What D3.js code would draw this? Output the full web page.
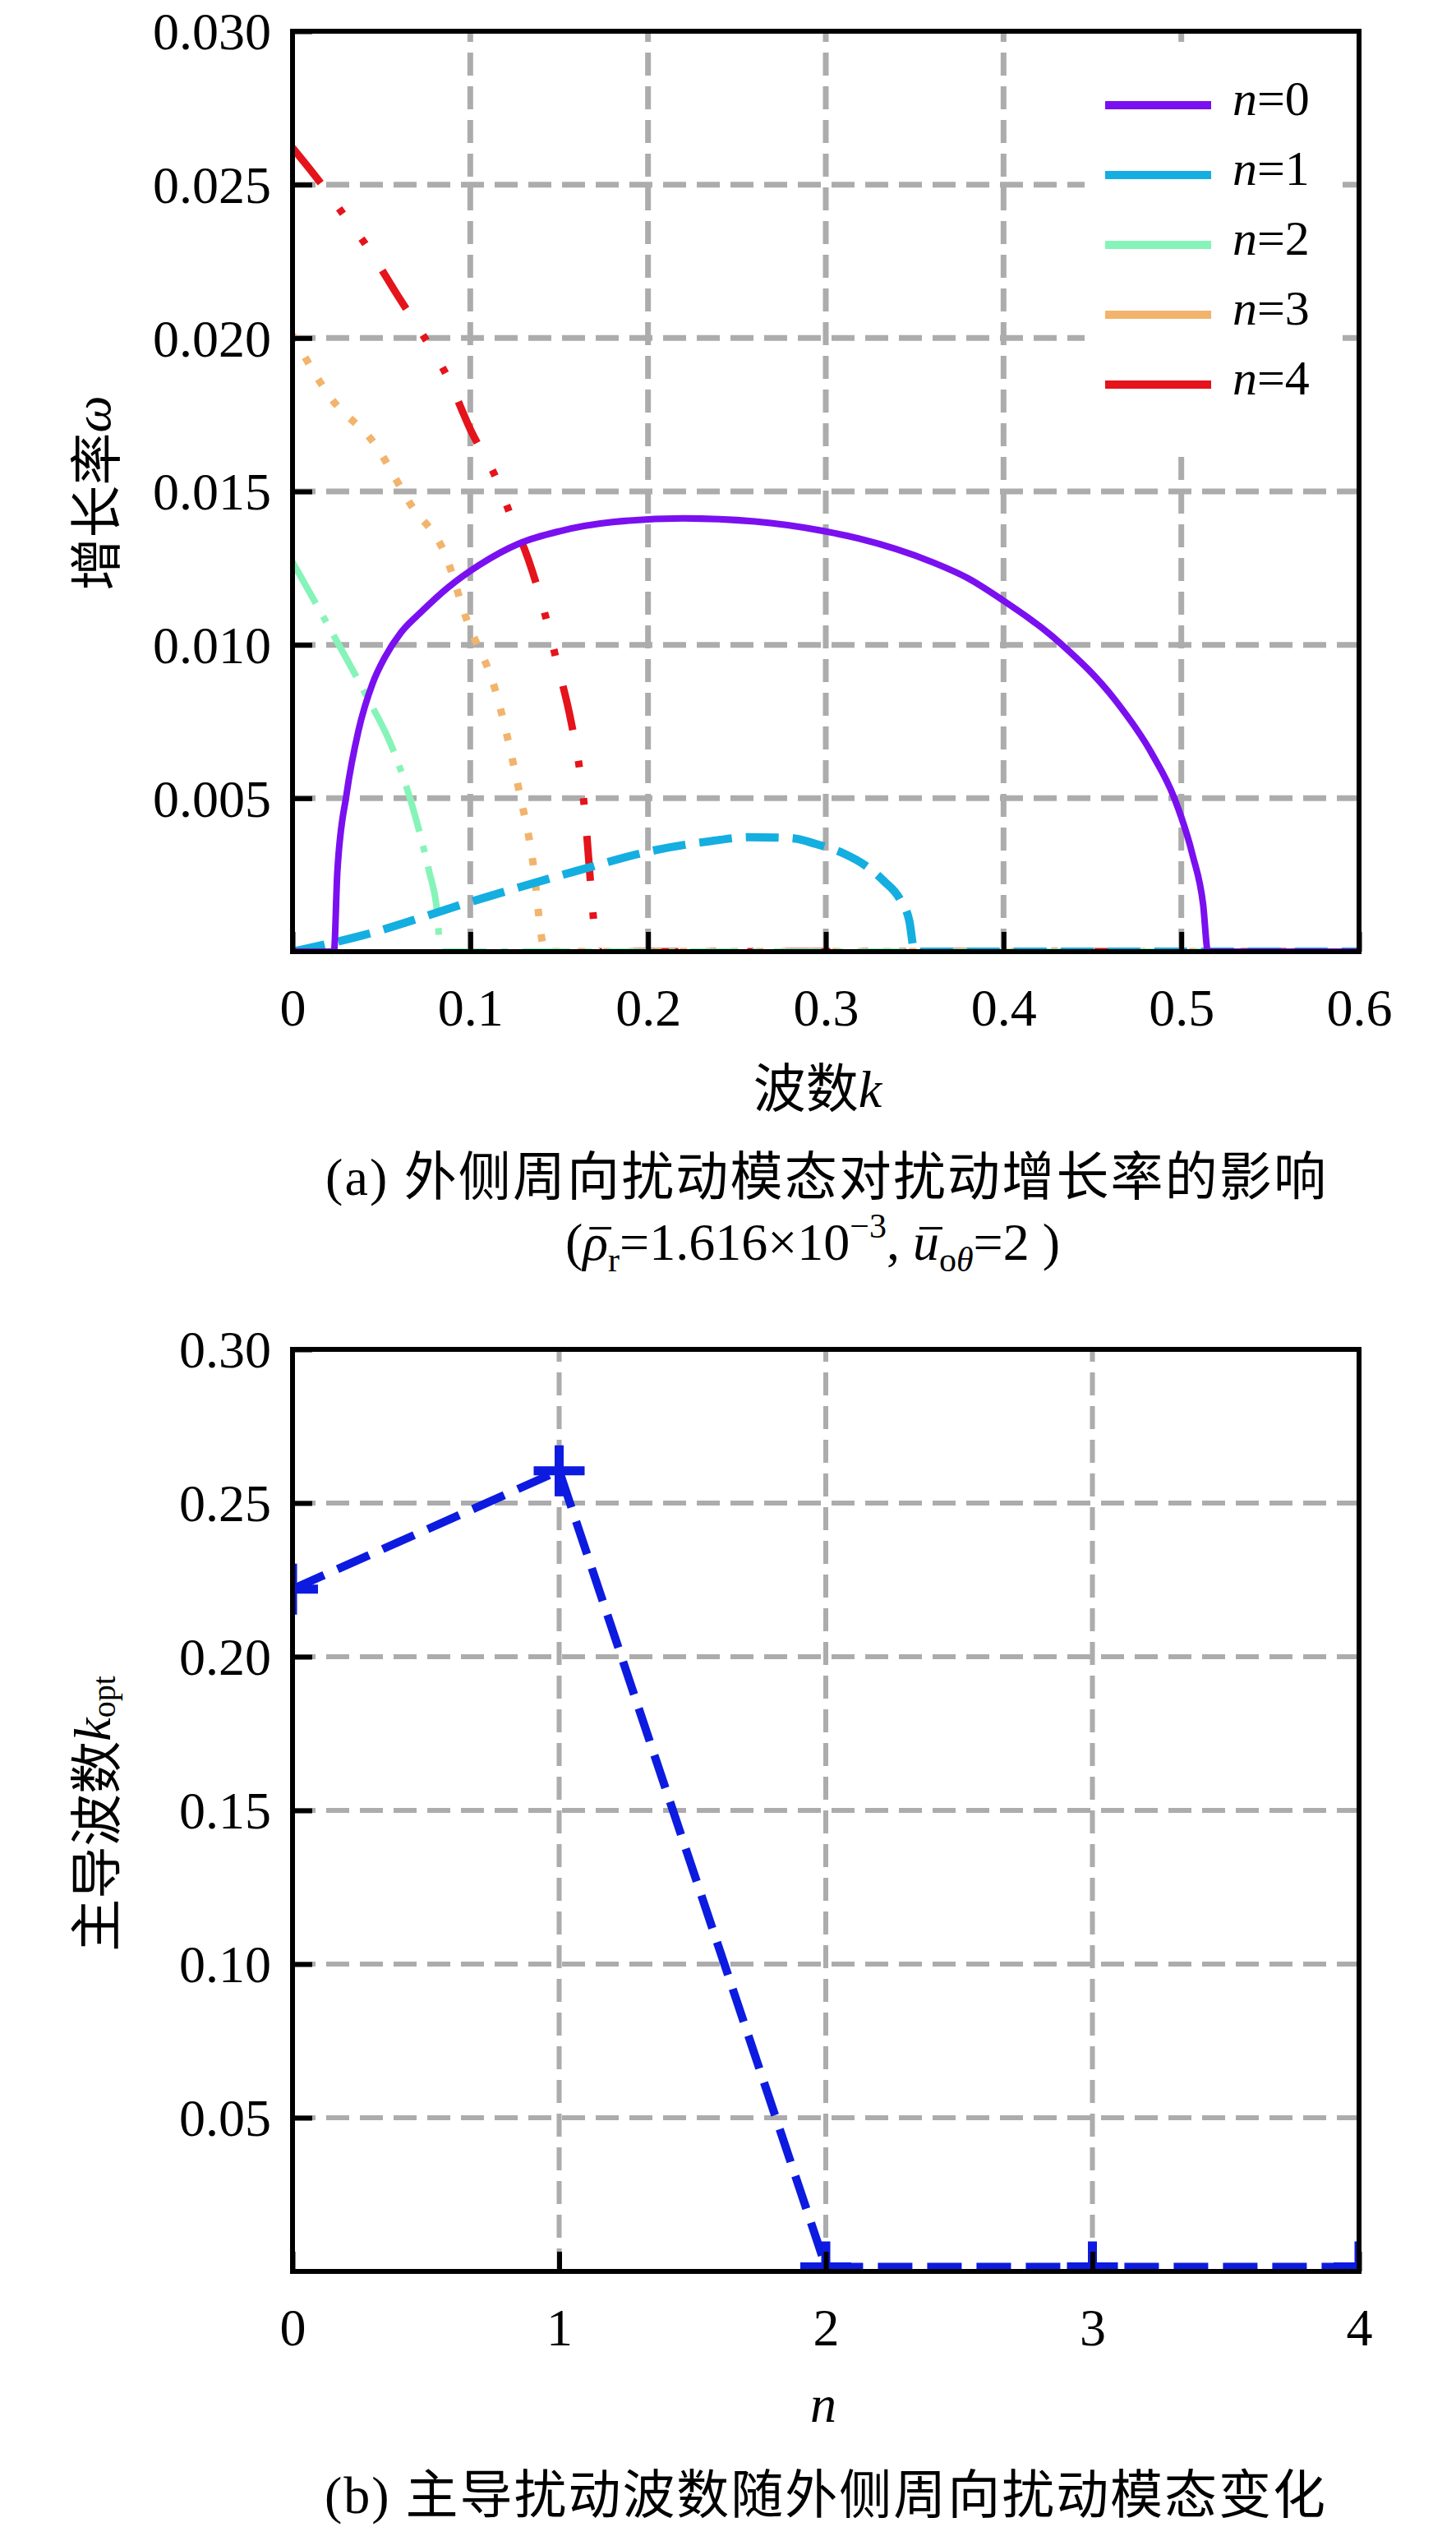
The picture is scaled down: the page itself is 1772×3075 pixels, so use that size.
<!DOCTYPE html>
<html>
<head>
<meta charset="utf-8">
<script src="https://cdn.jsdelivr.net/npm/d3@7"></script>
<style>
  body{margin:0;background:#fff;}
  svg{display:block;}
  text{font-family:"Liberation Serif","Times New Roman","Noto Sans CJK SC",serif;fill:#000;white-space:pre;}
</style>
</head>
<body>
<script>
// ---- data (a): growth rate vs wave number ----
const n0K = [0,0.0233,0.0252,0.0305,0.0371,0.0451,0.052,0.061,0.072,0.0875,0.105,0.1274,0.15,0.18,0.22,0.26,0.2977,0.3183,0.3597,0.3803,0.3989,0.4318,0.4628,0.4835,0.4959,0.5063,0.5123,0.515,0.52,0.6]
const n0W = [0,0,0.00258,0.00517,0.0072,0.00875,0.0096,0.0104,0.01105,0.01187,0.0126,0.0133,0.0137,0.014,0.01412,0.01402,0.01372,0.01347,0.0127,0.01216,0.01148,0.01006,0.0082,0.00645,0.00503,0.00316,0.00153,0,0,0]
const n1K = [0,0.04,0.1,0.158,0.205,0.235,0.257,0.28,0.2945,0.31,0.3227,0.3327,0.3417,0.347,0.35,0.6]
const n1W = [0,0.00054,0.00162,0.0026,0.00332,0.0036,0.00373,0.0037,0.00351,0.0032,0.00279,0.0023,0.00171,0.001,0,0]
const n2K = [0,0.021,0.0424,0.055,0.0663,0.077,0.081,0.0835,0.6]
const n2W = [0.0127,0.01053,0.00825,0.0068,0.00496,0.00258,0.0015,0,0]
const n3K = [0,0.0218,0.0458,0.067,0.0858,0.098,0.1139,0.1274,0.1353,0.1406,0.142,0.6]
const n3W = [0.0201,0.01803,0.01658,0.01453,0.01296,0.01082,0.00856,0.00526,0.00289,0.0003,0,0]
const n4K = [0,0.0165,0.0285,0.0416,0.0591,0.0763,0.087,0.1003,0.115,0.123,0.1327,0.1433,0.1485,0.1566,0.1619,0.1645,0.1672,0.1698,0.1715,0.6]
const n4W = [0.0262,0.025,0.02404,0.02301,0.02139,0.01982,0.01875,0.01699,0.01537,0.01417,0.01278,0.01072,0.00949,0.00753,0.00579,0.00454,0.00258,0.00078,0,0]
const seriesNames = ["n=0","n=1","n=2","n=3","n=4"]
const kTicks = [0,0.1,0.2,0.3,0.4,0.5,0.6]
const wTicks = [0.005,0.010,0.015,0.020,0.025,0.030]

// ---- data (b): dominant wave number vs n ----
const modeN = [0,1,2,3,4]
const kOpt = [0.222,0.2605,0.0015,0.0015,0.0015]
const nTicks = [0,1,2,3,4]
const kOptTicks = [0.05,0.10,0.15,0.20,0.25,0.30]

const W = 1772, H = 3075
const svg = d3.select("body").append("svg").attr("width",W).attr("height",H)
svg.append("rect").attr("width",W).attr("height",H).attr("fill","#fff")

const styles = [
  {color:"#7a10f0", width:8, dash:null},
  {color:"#15aee0", width:10, dash:"40,17"},
  {color:"#86f4b8", width:8, dash:"58,18,8,18"},
  {color:"#f2b46c", width:9, dash:"9,22"},
  {color:"#e5131b", width:9, dash:"55,38,8,38,8,38"}
]

function frame(g, x, y, gridX, gridY, gridW, clipId){
  let [x0,x1] = x.range(), [y0,y1] = y.range()
  g.append("clipPath").attr("id",clipId)
    .append("rect").attr("x",x0).attr("y",y1).attr("width",x1-x0).attr("height",y0-y1)
  let grid = g.append("g").attr("stroke","#acacac").attr("stroke-width",gridW).attr("stroke-dasharray","28,13")
  grid.selectAll(".gx").data(gridX).join("line")
    .attr("x1",d=>x(d)).attr("x2",d=>x(d)).attr("y1",y0).attr("y2",y1)
  grid.selectAll(".gy").data(gridY).join("line")
    .attr("y1",d=>y(d)).attr("y2",d=>y(d)).attr("x1",x0).attr("x2",x1)
}

function axes(g, x, y, xt, yt, xfmt, yfmt){
  let [x0,x1] = x.range(), [y0,y1] = y.range()
  let ax = g.append("g").attr("transform",`translate(0,${y0})`)
    .call(d3.axisBottom(x).tickValues(xt).tickFormat(xfmt).tickSizeInner(-24).tickSizeOuter(0).tickPadding(45))
  let ay = g.append("g").attr("transform",`translate(${x0},0)`)
    .call(d3.axisLeft(y).tickValues(yt).tickFormat(yfmt).tickSizeInner(-24).tickSizeOuter(0).tickPadding(26))
  for(let a of [ax,ay]){
    a.select(".domain").remove()
    a.selectAll("line").attr("stroke","#000").attr("stroke-width",6)
    a.selectAll("text").attr("font-size",64).attr("fill","#000")
      .style("font-family",'"Liberation Serif","Times New Roman",serif')
  }
  ay.selectAll("text").attr("dy","0.34em")
  g.append("rect").attr("x",x0).attr("y",y1).attr("width",x1-x0).attr("height",y0-y1)
    .attr("fill","none").attr("stroke","#000").attr("stroke-width",6)
}

// lays out text pieces left to right, centred on cx; pieces with bar get an overline
function richText(g, cx, baseline, size, pieces){
  let grp = g.append("g")
  let x = 0
  pieces.forEach(p=>{
    let t = grp.append("text").attr("x",x).attr("y",baseline+(p.dy||0))
      .attr("font-size",p.size||size).attr("font-style",p.it?"italic":null).text(p.t)
    let w = t.node().getComputedTextLength()
    if(p.bar){
      grp.append("line").attr("x1",x+8).attr("x2",x+w+4)
        .attr("y1",baseline-size*0.6).attr("y2",baseline-size*0.6)
        .attr("stroke","#000").attr("stroke-width",3)
    }
    x += w
  })
  grp.attr("transform",`translate(${cx-x/2},0)`)
}

// ================= chart (a) =================
const xA = d3.scaleLinear().domain([0,0.6]).range([356,1654])
const yA = d3.scaleLinear().domain([0,0.03]).range([1158,38])
const gA = svg.append("g")
frame(gA, xA, yA, [0.1,0.2,0.3,0.4,0.5], [0.005,0.010,0.015,0.020,0.025], 7, "clipA")

const dataA = [[n0K,n0W],[n1K,n1W],[n2K,n2W],[n3K,n3W],[n4K,n4W]]
  .map(([ks,ws])=>ks.map((k,i)=>({k:k,w:ws[i]})))
const lineA = d3.line().x(d=>xA(d.k)).y(d=>yA(d.w)).curve(d3.curveMonotoneX)
const curves = gA.append("g").attr("clip-path","url(#clipA)")
// draw higher modes first so n=0 stays on top
for(let i=dataA.length-1;i>=0;i--){
  curves.append("path").datum(dataA[i]).attr("d",lineA)
    .attr("fill","none").attr("stroke",styles[i].color).attr("stroke-width",styles[i].width)
    .attr("stroke-dasharray",styles[i].dash)
}

// legend
const leg = gA.append("g")
leg.append("rect").attr("x",1320).attr("y",58).attr("width",314).attr("height",488).attr("fill","#fff")
seriesNames.forEach((name,i)=>{
  let ly = 128 + i*85
  leg.append("line").attr("x1",1345).attr("x2",1474).attr("y1",ly).attr("y2",ly)
    .attr("stroke",styles[i].color).attr("stroke-width",10)
  let t = leg.append("text").attr("x",1500).attr("y",ly+12).attr("font-size",60)
  t.append("tspan").attr("font-style","italic").text(name.split("=")[0])
  t.append("tspan").text("="+name.split("=")[1])
})

axes(gA, xA, yA, kTicks, wTicks, d=>d===0?"0":d3.format(".1f")(d), d3.format(".3f"))

// axis titles (a)
let ylA = gA.append("text").attr("transform","translate(112,600) rotate(-90)")
  .attr("text-anchor","middle").attr("dominant-baseline","central").attr("font-size",64)
ylA.append("tspan").style("font-family",'"Noto Sans CJK SC",sans-serif').text("增长率")
ylA.append("tspan").attr("font-style","italic").text("ω")

let xlA = gA.append("text").attr("x",995).attr("y",1347).attr("text-anchor","middle").attr("font-size",64)
xlA.append("tspan").style("font-family",'"Noto Sans CJK SC",sans-serif').text("波数")
xlA.append("tspan").attr("font-style","italic").text("k")

gA.append("text").attr("x",1005).attr("y",1454).attr("text-anchor","middle").attr("font-size",64)
  .attr("textLength",1218).attr("lengthAdjust","spacing")
  .text("(a) 外侧周向扰动模态对扰动增长率的影响")

richText(gA, 989, 1533, 64, [
  {t:"("},
  {t:"ρ", it:true, bar:true},
  {t:"r", size:42, dy:14},
  {t:"=1.616×10"},
  {t:"−3", size:42, dy:-27},
  {t:",\u00a0"},
  {t:"u", it:true, bar:true},
  {t:"o", size:42, dy:14},
  {t:"θ", size:42, dy:14, it:true},
  {t:"=2\u00a0)"}
])

// ================= chart (b) =================
const xB = d3.scaleLinear().domain([0,4]).range([356,1654])
const yB = d3.scaleLinear().domain([0,0.3]).range([2764,1642])
const gB = svg.append("g")
frame(gB, xB, yB, [1,2,3], [0.05,0.10,0.15,0.20,0.25], 6, "clipB")

const dataB = modeN.map((n,i)=>({n:n,k:kOpt[i]}))
const plotB = gB.append("g").attr("clip-path","url(#clipB)")
plotB.append("path").datum(dataB)
  .attr("d",d3.line().x(d=>xB(d.n)).y(d=>yB(d.k)))
  .attr("fill","none").attr("stroke","#0d1be0").attr("stroke-width",10).attr("stroke-dasharray","42,18")
plotB.selectAll(".mk").data(dataB).join("path")
  .attr("transform",d=>`translate(${xB(d.n)},${yB(d.k)})`)
  .attr("d","M-31,0H31M0,-31V31")
  .attr("stroke","#0d1be0").attr("stroke-width",11).attr("fill","none")

axes(gB, xB, yB, nTicks, kOptTicks, d3.format("d"), d3.format(".2f"))

let ylB = gB.append("text").attr("transform","translate(112,2207) rotate(-90)")
  .attr("text-anchor","middle").attr("dominant-baseline","central").attr("font-size",64)
ylB.append("tspan").style("font-family",'"Noto Sans CJK SC",sans-serif').text("主导波数")
ylB.append("tspan").attr("font-style","italic").text("k")
ylB.append("tspan").attr("font-size",40).attr("dy",14).text("opt")

gB.append("text").attr("x",1002).attr("y",2947).attr("text-anchor","middle").attr("font-size",64)
  .attr("font-style","italic").text("n")

gB.append("text").attr("x",1004).attr("y",3058).attr("text-anchor","middle").attr("font-size",64)
  .attr("textLength",1218).attr("lengthAdjust","spacing")
  .text("(b) 主导扰动波数随外侧周向扰动模态变化")
</script>
</body>
</html>
